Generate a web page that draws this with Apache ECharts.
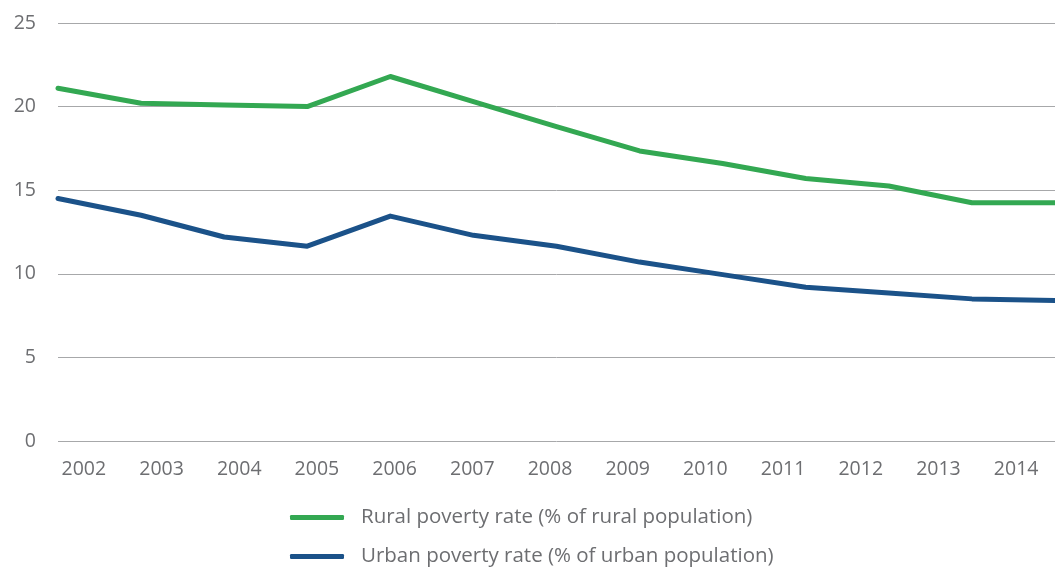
<!DOCTYPE html>
<html><head><meta charset="utf-8">
<script src="https://cdn.jsdelivr.net/npm/echarts@6/dist/echarts.min.js"></script>
<style>html,body{margin:0;padding:0;background:#fff}#c{width:1055px;height:570px}</style>
</head><body><div id="c"></div>
<script>
const years = ['2002','2003','2004','2005','2006','2007','2008','2009','2010','2011','2012','2013','2014'];
const rural = [21.1, 20.2, 20.1, 20.0, 21.8, 20.3, 18.8, 17.35, 16.6, 15.7, 15.25, 14.25, 14.25];
const urban = [14.5, 13.5, 12.2, 11.65, 13.45, 12.3, 11.65, 10.7, 9.95, 9.2, 8.85, 8.5, 8.4];
const yTicks = {min: 0, max: 25, interval: 5};
const ruralName = 'Rural poverty rate (% of rural population)';
const urbanName = 'Urban poverty rate (% of urban population)';

const font = 'Open Sans';
const textColor = '#6d6e71';
const legendBase = {
  orient: 'vertical', left: 290, padding: 0,
  icon: 'roundRect', itemWidth: 54, itemHeight: 5,
  textStyle: {fontFamily: font, fontSize: 20.5, color: textColor, padding: [0,0,0,12]}
};
const chart = echarts.init(document.getElementById('c'));
chart.setOption({
  animation: false,
  grid: [
    {left: 58, right: 0, top: 23, bottom: 129, containLabel: false},
    {left: 45, width: 1022, top: 23, bottom: 129, containLabel: false}
  ],
  legend: [
    Object.assign({}, legendBase, {top: 507, data: [ruralName]}),
    Object.assign({}, legendBase, {top: 546, data: [urbanName]})
  ],
  xAxis: [
    {type: 'category', gridIndex: 0, data: years, boundaryGap: false,
     axisLine: {show: false}, axisTick: {show: false}, axisLabel: {show: false}},
    {type: 'category', gridIndex: 1, data: years, boundaryGap: true,
     axisLine: {show: false}, axisTick: {show: false},
     axisLabel: {fontFamily: font, fontSize: 19.5, color: textColor, margin: 18}}
  ],
  yAxis: [
    {type: 'value', gridIndex: 0, min: yTicks.min, max: yTicks.max, interval: yTicks.interval,
     axisLine: {show: false}, axisTick: {show: false},
     axisLabel: {fontFamily: font, fontSize: 19.5, color: textColor, margin: 22},
     splitLine: {lineStyle: {color: '#a7a8aa', width: 1}}},
    {type: 'value', gridIndex: 1, min: 0, max: 25, show: false}
  ],
  series: [
    {name: ruralName, type: 'line', xAxisIndex: 0, yAxisIndex: 0, data: rural,
     symbol: 'none', lineStyle: {color: '#33a852', width: 5, cap: 'round', join: 'round'},
     itemStyle: {color: '#33a852'}},
    {name: urbanName, type: 'line', xAxisIndex: 0, yAxisIndex: 0, data: urban,
     symbol: 'none', lineStyle: {color: '#1b5289', width: 5, cap: 'round', join: 'round'},
     itemStyle: {color: '#1b5289'}}
  ]
});
</script></body></html>
